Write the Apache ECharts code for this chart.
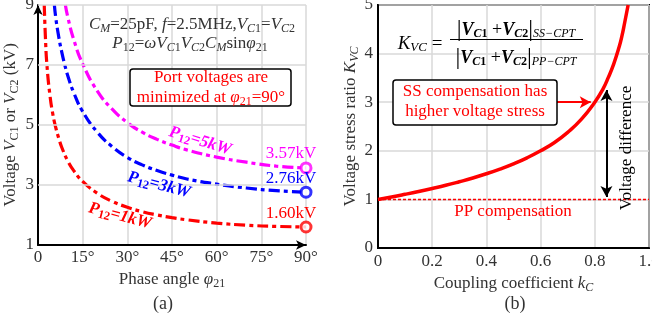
<!DOCTYPE html>
<html>
<head>
<meta charset="utf-8">
<script src="https://cdn.jsdelivr.net/npm/echarts@6/dist/echarts.min.js"></script>
<style>
  html, body { margin: 0; padding: 0; background: #fff; }
  #chart { width: 652px; height: 320px; }
</style>
</head>
<body>
<div id="chart"></div>
<script>
// (a) port voltage vs phase angle, [angle deg, kV]
var p1kW = [[2.1, 9.0], [2.5, 7.9], [3, 7.0], [4, 6.0], [5, 5.35], [6, 4.9], [7, 4.55], [8, 4.25],
  [10, 3.8], [12, 3.48], [15, 3.12], [20, 2.72], [25, 2.45], [30, 2.26], [35, 2.11], [40, 2.0],
  [45, 1.91], [50, 1.84], [60, 1.73], [70, 1.66], [80, 1.62], [90, 1.6]];
var p3kW = [[5.5, 9.0], [6, 8.55], [7, 7.92], [8, 7.42], [9, 7.0], [10, 6.64], [12, 6.08], [15, 5.45],
  [20, 4.75], [25, 4.27], [30, 3.92], [35, 3.67], [40, 3.48], [45, 3.33], [50, 3.2], [60, 3.03],
  [70, 2.9], [80, 2.81], [90, 2.76]];
var p5kW = [[9.2, 9.0], [10, 8.6], [12, 7.85], [15, 7.04], [20, 6.12], [25, 5.52], [30, 5.08],
  [35, 4.76], [40, 4.52], [45, 4.33], [50, 4.17], [60, 3.93], [70, 3.76], [80, 3.63], [90, 3.57]];
var minPoints = [[90, 3.57], [90, 2.76], [90, 1.6]];
var gridLinesA = [3, 5, 7, 9];

// (b) voltage stress ratio vs coupling coefficient
var kvc = [[0, 1], [0.05, 1.05], [0.1, 1.105], [0.15, 1.163], [0.2, 1.225], [0.25, 1.29],
  [0.3, 1.363], [0.35, 1.441], [0.4, 1.528], [0.45, 1.624], [0.5, 1.732], [0.55, 1.856],
  [0.6, 2.0], [0.65, 2.166], [0.7, 2.38], [0.75, 2.646], [0.8, 3.0], [0.83, 3.27],
  [0.85, 3.51], [0.87, 3.79], [0.89, 4.14], [0.9, 4.36], [0.91, 4.63], [0.923, 5.0]];
var ppLine = [[0, 1], [1, 1]];
var diffArrow = [[0.843, 1.05], [0.843, 3.25]];
var ssArrow = [[0.66, 3], [0.785, 3]];

var FONT = '"Liberation Serif", "DejaVu Serif", serif';
var RED = '#ff0000', BLUE = '#0000ff', MAG = '#ff00ff';
var GRID = '#d9d9d9', TXT = '#333';

function rich(color, size) {
  size = size || 17;
  var s = Math.round(size * 0.68);
  return {
    n: { fontFamily: FONT, fontSize: size, color: color, lineHeight: 20 },
    i: { fontFamily: FONT, fontSize: size, fontStyle: 'italic', color: color, lineHeight: 20 },
    s: { fontFamily: FONT, fontSize: s, color: color, lineHeight: 14, verticalAlign: 'bottom' },
    si: { fontFamily: FONT, fontSize: s, fontStyle: 'italic', color: color, lineHeight: 14, verticalAlign: 'bottom' },
    b: { fontFamily: FONT, fontSize: size, fontStyle: 'italic', fontWeight: 'bold', color: color, lineHeight: 20 },
    bs: { fontFamily: FONT, fontSize: s, fontWeight: 'bold', fontStyle: 'italic', color: color, lineHeight: 14, verticalAlign: 'bottom' },
    bn: { fontFamily: FONT, fontSize: s, fontWeight: 'bold', color: color, lineHeight: 14, verticalAlign: 'bottom' },
    bar: { fontFamily: FONT, fontSize: 24, color: color, lineHeight: 20 }
  };
}

function label(text, x, y, color, opts) {
  opts = opts || {};
  return {
    type: 'text', x: x, y: y, rotation: opts.rot || 0, z: 20,
    style: {
      text: text, rich: rich(color, opts.size), fill: color,
      font: (opts.size || 17) + 'px ' + FONT,
      align: 'center', verticalAlign: 'middle'
    }
  };
}

var chart = echarts.init(document.getElementById('chart'));

var dashed = [11, 4, 4, 4];

chart.setOption({
  animation: false,
  backgroundColor: '#fff',
  grid: [
    { left: 38, top: 5, width: 268, height: 240, outerBoundsMode: 'none', containLabel: false },
    { left: 378, top: 5, width: 271, height: 243, show: true, borderColor: '#000', borderWidth: 2,
      outerBoundsMode: 'none', containLabel: false }
  ],
  xAxis: [
    {
      gridIndex: 0, type: 'value', min: 0, max: 90, interval: 15,
      name: 'Phase angle {i|φ}{s|21}', nameLocation: 'middle', nameGap: 24,
      nameTextStyle: { fontFamily: FONT, fontSize: 17, color: TXT, rich: rich(TXT) },
      axisLine: { lineStyle: { color: '#000', width: 2 }, symbol: ['none', 'arrow'], symbolSize: [7, 10] },
      axisTick: { show: false },
      axisLabel: { fontFamily: FONT, fontSize: 17, color: TXT, margin: 4,
        formatter: function (v) { return v === 0 ? '0' : v + '°'; } },
      splitLine: { show: true, lineStyle: { color: GRID, width: 1.5 } }
    },
    {
      gridIndex: 1, type: 'value', min: 0, max: 1, interval: 0.2,
      name: 'Coupling coefficient {i|k}{si|C}', nameLocation: 'middle', nameGap: 25,
      nameTextStyle: { fontFamily: FONT, fontSize: 17, color: TXT, rich: rich(TXT) },
      axisLine: { lineStyle: { color: '#000', width: 2 } },
      axisTick: { show: false },
      axisLabel: { fontFamily: FONT, fontSize: 17, color: TXT, margin: 5,
        formatter: function (v) { return v === 0 ? '0' : v.toFixed(1); } },
      splitLine: { show: true, lineStyle: { color: GRID, width: 1.5 } }
    }
  ],
  yAxis: [
    {
      gridIndex: 0, type: 'value', min: 1, max: 9, interval: 1,
      name: 'Voltage {i|V}{s|C1} or {i|V}{s|C2} (kV)', nameLocation: 'middle', nameGap: 17, nameRotate: 90,
      nameTextStyle: { fontFamily: FONT, fontSize: 17, color: TXT, rich: rich(TXT) },
      axisLine: { lineStyle: { color: '#000', width: 2 }, symbol: ['none', 'arrow'], symbolSize: [7, 10] },
      axisTick: { show: false },
      axisLabel: { fontFamily: FONT, fontSize: 17, color: TXT, margin: 4,
        formatter: function (v) { return v % 2 === 1 ? String(v) : ''; } },
      splitLine: { show: false }
    },
    {
      gridIndex: 1, type: 'value', min: 0, max: 5, interval: 1,
      name: 'Voltage stress ratio {i|K}{si|VC}', nameLocation: 'middle', nameGap: 15, nameRotate: 90,
      nameTextStyle: { fontFamily: FONT, fontSize: 17, color: TXT, rich: rich(TXT) },
      axisLine: { lineStyle: { color: '#000', width: 2 } },
      axisTick: { show: false },
      axisLabel: { fontFamily: FONT, fontSize: 17, color: TXT, margin: 5 },
      splitLine: { show: true, lineStyle: { color: GRID, width: 1.5 } }
    }
  ],
  series: [
    {
      // horizontal grid lines of panel (a) at odd kV values
      type: 'scatter', xAxisIndex: 0, yAxisIndex: 0, data: [[0, 1]], symbolSize: 0, z: 0, silent: true,
      markLine: {
        silent: true, symbol: 'none', label: { show: false },
        lineStyle: { color: GRID, width: 1.5, type: 'solid' },
        data: gridLinesA.map(function (v) { return { yAxis: v }; })
      }
    },
    { type: 'line', xAxisIndex: 0, yAxisIndex: 0, data: p5kW, smooth: true, showSymbol: false, z: 3,
      lineStyle: { color: MAG, width: 3.2, type: dashed } },
    { type: 'line', xAxisIndex: 0, yAxisIndex: 0, data: p3kW, smooth: true, showSymbol: false, z: 3,
      lineStyle: { color: BLUE, width: 3.2, type: dashed } },
    { type: 'line', xAxisIndex: 0, yAxisIndex: 0, data: p1kW, smooth: true, showSymbol: false, z: 3,
      lineStyle: { color: RED, width: 3.2, type: dashed } },
    {
      type: 'scatter', xAxisIndex: 0, yAxisIndex: 0, symbol: 'circle', symbolSize: 10, z: 5,
      data: minPoints.map(function (p, i) {
        return { value: p, itemStyle: { color: '#fff', borderColor: [MAG, BLUE, RED][i], borderWidth: 3 } };
      })
    },
    {
      type: 'line', xAxisIndex: 1, yAxisIndex: 1, data: ppLine, showSymbol: false, z: 2,
      lineStyle: { color: RED, width: 1.5, type: [3, 2] }
    },
    {
      type: 'line', xAxisIndex: 1, yAxisIndex: 1, data: kvc, smooth: true, showSymbol: false, z: 3,
      lineStyle: { color: RED, width: 3.5 },
      markLine: {
        silent: true, label: { show: false }, symbolSize: [9, 11],
        data: [
          [{ coord: diffArrow[0], symbol: 'arrow', lineStyle: { color: '#000', width: 2, type: 'solid' } },
           { coord: diffArrow[1], symbol: 'arrow' }],
          [{ coord: ssArrow[0], symbol: 'none', lineStyle: { color: RED, width: 2, type: 'solid' } },
           { coord: ssArrow[1], symbol: 'arrow' }]
        ]
      }
    }
  ],
  graphic: [
    // panel (a) annotations
    label('{i|C}{si|M}{n|=25pF, }{i|f}{n|=2.5MHz,}{i|V}{si|C}{s|1}{n|=}{i|V}{si|C}{s|2}', 192, 25, TXT),
    label('{i|P}{s|12}{n|=}{i|ωV}{si|C}{s|1}{i|V}{si|C}{s|2}{i|C}{si|M}{n|sin}{i|φ}{s|21}', 190, 44, TXT),
    {
      type: 'rect', z: 15, shape: { x: 130, y: 69, width: 161, height: 37, r: 3 },
      style: { fill: '#fff', stroke: '#000', lineWidth: 1.5 }
    },
    label('{n|Port voltages are}\n{n|minimized at }{i|φ}{s|21}{n|=90°}', 211, 88, RED),
    label('{b|P}{bn|12}{b|=5kW}', 200, 141, MAG, { rot: -0.3 }),
    label('{b|P}{bn|12}{b|=3kW}', 159, 185, BLUE, { rot: -0.26 }),
    label('{b|P}{bn|12}{b|=1kW}', 120, 216, RED, { rot: -0.26 }),
    label('{n|3.57kV}', 291, 154, MAG),
    label('{n|2.76kV}', 291, 179, BLUE),
    label('{n|1.60kV}', 291, 214, RED),
    label('{n|(a)}', 163, 304, TXT, { size: 18 }),
    // panel (b) annotations
    label('{i|K}{si|VC}{n| =}', 420, 44, '#000', { size: 19 }),
    label('{bar||}{b|V}{bs|C}{bn|1}{n| +}{b|V}{bs|C}{bn|2}{bar||}{si|SS−CPT}', 516, 30, '#000', { size: 18 }),
    {
      type: 'line', z: 20, shape: { x1: 450, y1: 39.5, x2: 583, y2: 39.5 },
      style: { stroke: '#000', lineWidth: 1 }
    },
    label('{bar||}{b|V}{bs|C}{bn|1}{n| +}{b|V}{bs|C}{bn|2}{bar||}{si|PP−CPT}', 516, 58, '#000', { size: 18 }),
    {
      type: 'rect', z: 15, shape: { x: 393, y: 80, width: 164, height: 45, r: 3 },
      style: { fill: '#fff', stroke: '#000', lineWidth: 1.5 }
    },
    label('{n|SS compensation has}\n{n|higher voltage stress}', 475, 102, RED),
    label('{n|PP compensation}', 513, 212, RED),
    label('{n|Voltage difference}', 627, 148, '#000', { rot: Math.PI / 2 }),
    label('{n|(b)}', 515, 304, TXT, { size: 18 })
  ]
});
</script>
</body>
</html>
